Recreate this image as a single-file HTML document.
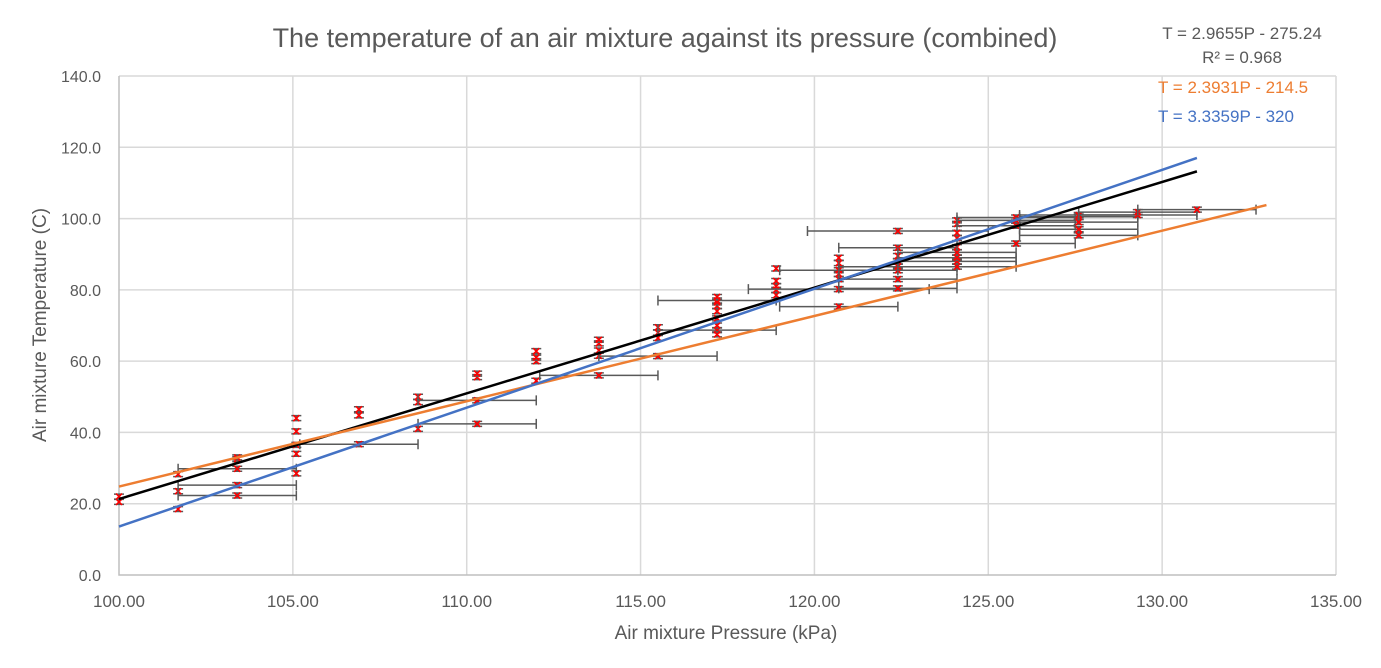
<!DOCTYPE html>
<html><head><meta charset="utf-8"><style>
body{margin:0;background:#fff;}
svg{display:block;font-family:"Liberation Sans",sans-serif;}
</style></head><body>
<svg id="chart" width="1381" height="668">
<rect width="1381" height="668" fill="#fff"/>
<text x="665" y="47" font-size="27" fill="#595959" text-anchor="middle">The temperature of an air mixture against its pressure (combined)</text>
<g id="grid"></g>
<g id="axes"></g>
<g id="marks"></g>
<g id="lines"></g>
<text x="1242" y="39" font-size="17" fill="#595959" text-anchor="middle">T = 2.9655P - 275.24</text>
<text x="1242" y="63" font-size="17" fill="#595959" text-anchor="middle">R² = 0.968</text>
<text x="1158" y="93" font-size="17" fill="#ED7D31">T = 2.3931P - 214.5</text>
<text x="1158" y="122" font-size="17" fill="#4472C4">T = 3.3359P - 320</text>
<text x="726" y="639" font-size="19" fill="#595959" text-anchor="middle">Air mixture Pressure (kPa)</text>
<text transform="translate(46,325) rotate(-90)" font-size="19" fill="#595959" text-anchor="middle">Air mixture Temperature (C)</text>
</svg>
<script>
const xTicks=[100,105,110,115,120,125,130,135];
const yTicks=[0,20,40,60,80,100,120,140];
const pressures=[100,100,101.7,101.7,101.7,103.4,103.4,103.4,103.4,103.4,105.1,105.1,105.1,105.1,105.1,106.9,106.9,106.9,108.6,108.6,108.6,110.3,110.3,110.3,110.3,112,112,112,112,113.8,113.8,113.8,113.8,113.8,115.5,115.5,115.5,115.5,117.2,117.2,117.2,117.2,117.2,117.2,117.2,117.2,117.2,118.9,118.9,118.9,118.9,118.9,120.7,120.7,120.7,120.7,120.7,120.7,120.7,122.4,122.4,122.4,122.4,122.4,122.4,122.4,122.4,124.1,124.1,124.1,124.1,124.1,124.1,124.1,124.1,124.1,125.8,125.8,125.8,125.8,127.6,127.6,127.6,127.6,127.6,129.3,129.3,131];
const temps=[20.5,22,18.5,23.5,28.3,22.3,25.2,29.8,32.5,33,28.5,34,36.5,40.3,44,36.7,44.8,46.5,41,48.5,50,42.4,49,55.5,56.5,54.5,60,61,62.8,56,61.5,63,65,66,61.4,66.5,68,69.5,68.7,77,67.5,70,72,74,75.5,76.5,78,78.5,80,81,82.5,86,75.3,80.2,83,84.5,85.5,87.5,89,80.4,83,85.5,86.5,88,89.5,91.8,96.5,86.5,88,89,90.5,92,94.5,96,98.5,99.5,93,100.3,98,99.5,95.3,97,99,100.5,101,101,101.8,102.5];
const pressureErr=[0,0,0,0,0,1.7,1.7,1.7,0,0,0,0,0,0,0,1.7,0,0,0,0,0,1.7,1.7,0,0,0,0,0,0,1.7,0,0,0,0,1.7,0,0,0,1.7,1.7,0,0,0,0,0,0,0,0,0,0,0,0,1.7,2.6,0,0,1.7,0,0,1.7,1.7,1.7,1.7,0,0,1.7,2.6,1.7,1.7,1.7,1.7,0,0,0,0,0,1.7,1.7,1.7,1.7,1.7,1.7,1.7,1.7,1.7,1.7,1.7,1.7];
const trendSlopes=[2.9655,2.3931,3.3359];
const trendIntercepts=[-275.24,-214.5,-320];
const trendEnds=[131,133,131];
const trendColors=['#000000','#ED7D31','#4472C4'];
const trendNames=['combined-trendline','orange-trendline','blue-trendline'];

const X0=119,X1=1336,Y0=575,Y1=76;
const xs=v=>X0+(v-100)/35*(X1-X0);
const ys=v=>Y0-v/140*(Y0-Y1);
const NS='http://www.w3.org/2000/svg';
function mk(tag,attrs,parent){const e=document.createElementNS(NS,tag);for(const k in attrs)e.setAttribute(k,attrs[k]);parent.appendChild(e);return e;}
const grid=document.getElementById('grid'),axes=document.getElementById('axes'),marks=document.getElementById('marks'),lines=document.getElementById('lines');
xTicks.forEach(t=>{
  if(t>100){const l=mk('line',{x1:xs(t),x2:xs(t),y1:Y1,y2:Y0,stroke:'#d9d9d9','stroke-width':1.5},grid);
  
  }
  const tx=mk('text',{x:xs(t),y:607,'font-size':17,fill:'#595959','text-anchor':'middle'},axes);
  tx.textContent=t.toFixed(2);
  
  
});
yTicks.forEach(t=>{
  if(t>0){const l=mk('line',{x1:X0,x2:X1,y1:ys(t),y2:ys(t),stroke:'#d9d9d9','stroke-width':1.5},grid);
  
  }
  const tx=mk('text',{x:101,y:ys(t)+6,'font-size':16,fill:'#595959','text-anchor':'end'},axes);
  tx.textContent=t.toFixed(1);
  
  
});
const ax=mk('path',{d:`M${X0} ${Y1}V${Y0}H${X1}`,stroke:'#bfbfbf','stroke-width':1.5,fill:'none'},axes);


pressures.forEach((p,i)=>{
  const cx=xs(p),cy=ys(temps[i]);
  const g=mk('g',{},marks);
  
  
  const e=pressureErr[i];
  if(e>0){const a=xs(p-e),b=xs(p+e);
    mk('path',{d:`M${a} ${cy}H${b}M${a} ${cy-5}V${cy+5}M${b} ${cy-5}V${cy+5}`,stroke:'#595959','stroke-width':1.5,fill:'none'},g);}
  const t1=ys(temps[i]+0.7),t2=ys(temps[i]-0.7);
  mk('path',{d:`M${cx} ${t1}V${t2}M${cx-5} ${t1}H${cx+5}M${cx-5} ${t2}H${cx+5}`,stroke:'#595959','stroke-width':1.5,fill:'none'},g);
  mk('path',{d:`M${cx-3} ${cy-3}L${cx+3} ${cy+3}M${cx-3} ${cy+3}L${cx+3} ${cy-3}`,stroke:'#ff0000','stroke-width':1.6},g);
});
trendSlopes.forEach((m,i)=>{
  const b=trendIntercepts[i];
  const l=mk('line',{x1:xs(100),y1:ys(m*100+b),x2:xs(trendEnds[i]),y2:ys(m*trendEnds[i]+b),stroke:trendColors[i],'stroke-width':2.5},lines);
  
  
});
</script>
</body></html>
